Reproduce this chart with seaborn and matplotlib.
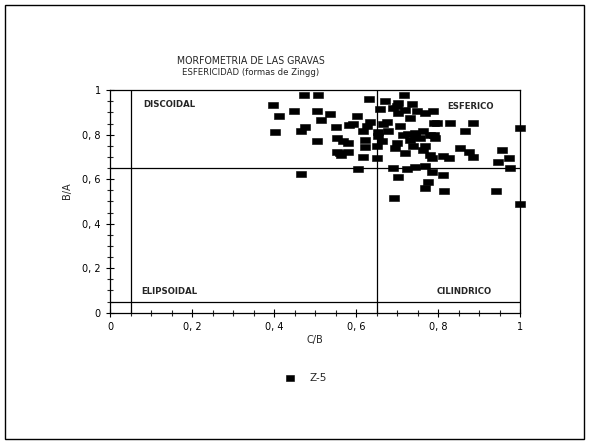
import numpy as np
import pandas as pd
import matplotlib
matplotlib.use("Agg")
import matplotlib.pyplot as plt
from matplotlib.ticker import MultipleLocator, FuncFormatter
from matplotlib.patches import Rectangle
import seaborn as sns

# Zingg shape indices for the gravel sample Z-5
c_b = [0.398, 0.411, 0.403, 0.448, 0.466, 0.476, 0.472, 0.508, 0.506, 0.537,
       0.515, 0.506, 0.551, 0.554, 0.568, 0.584, 0.564, 0.553, 0.465, 0.593,
       0.602, 0.581, 0.581, 0.606, 0.632, 0.671, 0.659, 0.634, 0.626, 0.618,
       0.675, 0.679, 0.654, 0.663, 0.622, 0.650, 0.622, 0.699, 0.618, 0.650,
       0.695, 0.691, 0.703, 0.693, 0.691, 0.703, 0.703, 0.718, 0.736, 0.720,
       0.748, 0.732, 0.768, 0.707, 0.715, 0.744, 0.764, 0.780, 0.756, 0.732,
       0.791, 0.740, 0.768, 0.720, 0.764, 0.780, 0.724, 0.744, 0.768, 0.785,
       0.776, 0.768, 0.787, 0.797, 0.829, 0.886, 0.866, 0.789, 0.793, 1.000,
       0.854, 0.876, 0.886, 0.813, 0.826, 0.785, 0.957, 0.974, 0.946, 0.976,
       0.813, 0.815, 0.941, 1.000, 0.654, 0.667, 0.561, 0.745, 0.700, 0.727]
b_a = [0.932, 0.885, 0.814, 0.908, 0.818, 0.833, 0.979, 0.979, 0.904, 0.894,
       0.867, 0.770, 0.833, 0.785, 0.770, 0.844, 0.708, 0.723, 0.623, 0.850,
       0.882, 0.762, 0.720, 0.645, 0.960, 0.952, 0.916, 0.859, 0.837, 0.817,
       0.859, 0.815, 0.792, 0.770, 0.777, 0.747, 0.743, 0.762, 0.700, 0.693,
       0.738, 0.648, 0.608, 0.514, 0.919, 0.942, 0.897, 0.979, 0.937, 0.912,
       0.904, 0.874, 0.897, 0.837, 0.799, 0.807, 0.815, 0.799, 0.785, 0.777,
       0.852, 0.747, 0.747, 0.716, 0.731, 0.708, 0.645, 0.656, 0.660, 0.633,
       0.588, 0.559, 0.904, 0.852, 0.852, 0.852, 0.815, 0.799, 0.785, 0.829,
       0.740, 0.720, 0.700, 0.705, 0.696, 0.696, 0.730, 0.693, 0.678, 0.648,
       0.618, 0.548, 0.548, 0.487, 0.813, 0.850, 0.716, 0.790, 0.930, 0.805]
sample = "Z-5"

# Zingg class limits and zone names
limits = [0.05, 0.65]
zones = ["DISCOIDAL", "ESFERICO", "ELIPSOIDAL", "CILINDRICO"]
zone_x = [0.08, 0.822, 0.077, 0.797]
zone_y = [0.937, 0.928, 0.094, 0.094]

df = pd.DataFrame({"C/B": c_b, "B/A": b_a, "muestra": sample})

sns.set_theme(style="white")
plt.rcParams["font.family"] = ["DejaVu Sans"]

fig = plt.figure(figsize=(5.89, 4.44), dpi=100)
fig.patch.set_facecolor("white")
ax = fig.add_axes([0.1868, 0.2957, 0.8829 - 0.1868, 0.797 - 0.2957])

rect_marker = [(-1, -0.65), (1, -0.65), (1, 0.65), (-1, 0.65), (-1, -0.65)]
sns.scatterplot(data=df, x="C/B", y="B/A", ax=ax, marker=rect_marker, s=48,
                color="black", edgecolor="black", linewidth=0.4,
                label=sample, clip_on=False, zorder=3)

for v in limits:
    ax.axvline(v, color="black", lw=0.9, zorder=2)
    ax.axhline(v, color="black", lw=0.9, zorder=2)

for name, zx, zy in zip(zones, zone_x, zone_y):
    ax.text(zx, zy, name, fontsize=6.8, ha="left", va="center",
            fontweight="bold", fontstretch="condensed")

ax.set_xlim(0, 1)
ax.set_ylim(0, 1)
ax.xaxis.set_major_locator(MultipleLocator(0.2))
ax.xaxis.set_minor_locator(MultipleLocator(0.05))
ax.yaxis.set_major_locator(MultipleLocator(0.2))
ax.yaxis.set_minor_locator(MultipleLocator(0.05))

def fmt(v, pos):
    if abs(v) < 1e-9:
        return "0"
    if abs(v - 1) < 1e-9:
        return "1"
    return ("%.1f" % v).replace(".", ", ")

ax.xaxis.set_major_formatter(FuncFormatter(fmt))
ax.yaxis.set_major_formatter(FuncFormatter(fmt))
ax.tick_params(which="major", direction="inout", length=6, width=0.8,
               labelsize=7, colors="black", bottom=True, left=True)
ax.tick_params(which="minor", direction="inout", length=4, width=0.8,
               bottom=True, left=True)
for sp in ax.spines.values():
    sp.set_color("black")
    sp.set_linewidth(0.9)

ax.set_xlabel("C/B", fontsize=7, labelpad=2)
ax.set_ylabel("B/A", fontsize=7)
ax.yaxis.set_label_coords(-0.092, 0.55)

ax.legend_.remove()
handles, labels = ax.get_legend_handles_labels()
fig.legend(handles, labels, loc="center", bbox_to_anchor=(0.515, 0.149),
           frameon=False, fontsize=7.5, handletextpad=0.8, markerscale=0.9)

fig.text(0.300, 0.863, "MORFOMETRIA DE LAS GRAVAS", fontsize=7.6, ha="left",
         va="center", fontstretch="condensed")
fig.text(0.309, 0.836, "ESFERICIDAD (formas de Zingg)", fontsize=6.8, ha="left",
         va="center", fontstretch="condensed")

fig.patches.append(Rectangle((0.008, 0.011), 0.984, 0.978, transform=fig.transFigure,
                             fill=False, edgecolor="black", lw=1.0))

fig.savefig("out.png", dpi=100, facecolor="white")
